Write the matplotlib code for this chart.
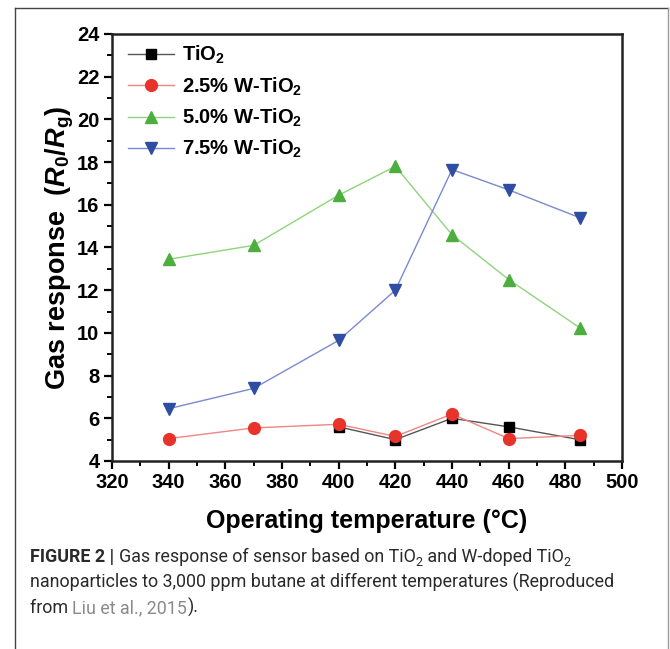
import matplotlib.pyplot as plt
from matplotlib.lines import Line2D
from matplotlib.ticker import MultipleLocator

plt.rcParams['font.family'] = ['Liberation Sans', 'DejaVu Sans']
plt.rcParams['mathtext.fontset'] = 'custom'
plt.rcParams['mathtext.rm'] = 'Liberation Sans'
plt.rcParams['mathtext.it'] = 'Liberation Sans:italic'
plt.rcParams['mathtext.bf'] = 'Liberation Sans:bold'
plt.rcParams['mathtext.bfit'] = 'Liberation Sans:italic:bold'

# Data
temps = [340, 370, 400, 420, 440, 460, 485]
tio2_temps = [400, 420, 440, 460, 485]
tio2 = [5.6, 5.0, 6.0, 5.6, 5.0]
w25 = [5.05, 5.55, 5.72, 5.15, 6.2, 5.05, 5.2]
w50 = [13.45, 14.1, 16.45, 17.8, 14.6, 12.5, 10.25]
w75 = [6.45, 7.4, 9.65, 12.0, 17.65, 16.7, 15.4]
labels = ['TiO$_\\mathbf{2}$', '2.5% W-TiO$_\\mathbf{2}$',
          '5.0% W-TiO$_\\mathbf{2}$', '7.5% W-TiO$_\\mathbf{2}$']

cap_font = ['Roboto', 'DejaVu Sans']

fig = plt.figure(figsize=(6.70, 6.49), dpi=100)

# outer frame of the figure panel
fig.add_artist(Line2D([15/670, 15/670], [0, 1 - 8/649], color='#444444', lw=1.0))
fig.add_artist(Line2D([15/670, 668/670], [1 - 8/649, 1 - 8/649], color='#444444', lw=1.0))
fig.add_artist(Line2D([668/670, 668/670], [0, 1 - 8/649], color='#999999', lw=1.0))

ax = fig.add_axes([112/670, 1 - 461/649, 510/670, 427/649])

ax.plot(tio2_temps, tio2, color='#555555', lw=1.0, marker='s', ms=7,
        mfc='black', mec='black', label=labels[0])
ax.plot(temps, w25, color='#f08585', lw=1.0, marker='o', ms=8.5,
        mfc='#e8332a', mec='#e8332a', label=labels[1])
ax.plot(temps, w50, color='#8fd47a', lw=1.0, marker='^', ms=9,
        mfc='#4cae3c', mec='#4cae3c', label=labels[2])
ax.plot(temps, w75, color='#7a8ad0', lw=1.0, marker='v', ms=9,
        mfc='#2f4ea3', mec='#2f4ea3', label=labels[3])

ax.set_xlim(320, 500)
ax.set_ylim(4, 24)
ax.xaxis.set_major_locator(MultipleLocator(20))
ax.xaxis.set_minor_locator(MultipleLocator(10))
ax.yaxis.set_major_locator(MultipleLocator(2))
ax.yaxis.set_minor_locator(MultipleLocator(1))
ax.tick_params(which='major', direction='out', length=6, width=1.6,
               labelsize=14.5, pad=3)
ax.tick_params(which='minor', direction='out', length=3.5, width=1.4)
for lab in ax.get_xticklabels() + ax.get_yticklabels():
    lab.set_fontweight('bold')
for sp in ax.spines.values():
    sp.set_linewidth(1.8)
    sp.set_color('#222222')

ax.set_xlabel('Operating temperature (°C)', fontsize=18, fontweight='bold', labelpad=12)
ax.set_ylabel('Gas response  ($\\mathbfit{R}_\\mathbf{0}$/$\\mathbfit{R}_\\mathbf{g}$)',
              fontsize=19.5, fontweight='bold', labelpad=1)

leg = ax.legend(loc='upper left', bbox_to_anchor=(128/670, 1 - 44/649),
                bbox_transform=fig.transFigure, frameon=False, fontsize=14.5,
                handlelength=2.3, labelspacing=0.45, handletextpad=0.4,
                borderpad=0.0, borderaxespad=0.0)
for t in leg.get_texts():
    t.set_fontweight('bold')

# caption: write runs one after another; subscripts are smaller, lowered runs
fig.canvas.draw()
renderer = fig.canvas.get_renderer()

line2 = 'nanoparticles to 3,000 ppm butane at different temperatures (Reproduced'
probe = fig.text(0, 0, line2, fontsize=14, family=cap_font)
cap_size = 14 * 588 / probe.get_window_extent(renderer=renderer).width
probe.remove()


def caption_line(y, runs):
    x = 30 / 670
    for run in runs:
        txt, weight, color = run[:3]
        sub = len(run) > 3
        size = cap_size * (0.7 if sub else 1.0)
        dy = -0.25 * cap_size / 72 * 100 / fig.bbox.height if sub else 0
        t = fig.text(x, y + dy, txt, fontsize=size, fontweight=weight, color=color,
                     family=cap_font, ha='left', va='baseline')
        bb = t.get_window_extent(renderer=renderer)
        x += bb.width / fig.bbox.width


dark = '#2a2a2a'
caption_line(1 - 562/649, [('FIGURE 2 | ', 'bold', dark),
                           ('Gas response of sensor based on TiO', 'normal', dark),
                           ('2', 'normal', dark, 'sub'),
                           (' and W-doped TiO', 'normal', dark),
                           ('2', 'normal', dark, 'sub')])
caption_line(1 - 588/649, [(line2, 'normal', dark)])
caption_line(1 - 613/649, [('from ', 'normal', dark), ('Liu et al., 2015', 'normal', '#8a8a8a'),
                           (').', 'normal', dark)])

plt.savefig('out.png', dpi=100)
plt.close()
